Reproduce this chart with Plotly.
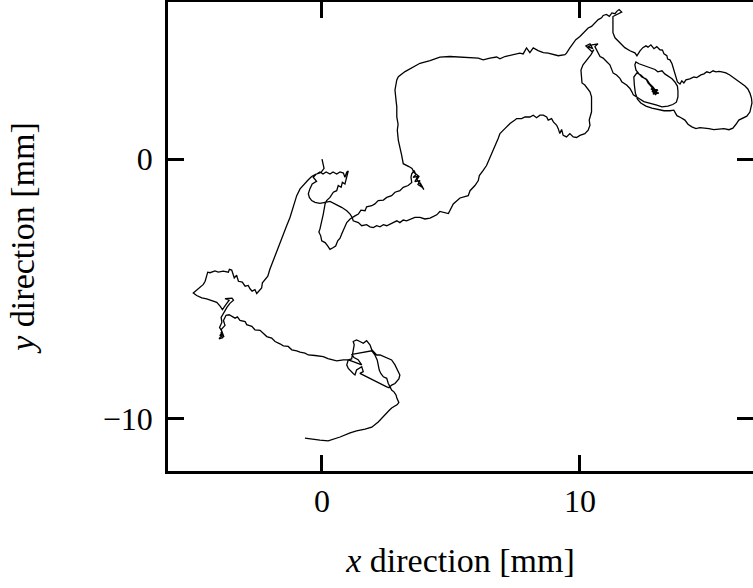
import plotly.graph_objects as go

# Trajectory of the tracked particle, in mm, split into consecutive stretches.
origin_loop = [
    (0, 0), (0.05, -0.17), (0.08, -0.36), (-0.04, -0.52), (-0.19, -0.57),
    (-0.08, -0.50), (0.04, -0.58), (0.16, -0.50), (0.31, -0.58), (0.43, -0.50),
    (0.57, -0.58), (0.70, -0.50), (0.83, -0.54), (0.89, -0.70), (0.96, -0.51),
    (1.02, -0.46), (0.96, -0.70), (0.89, -0.96), (0.79, -0.90), (0.74, -1.09),
    (0.63, -1.02), (0.57, -1.22), (0.44, -1.28), (0.31, -1.48), (0.18, -1.60),
    (0.12, -1.73), (0.05, -2.12), (-0.01, -2.45), (-0.08, -2.70), (-0.12, -2.81),
    (-0.05, -2.96), (-0.01, -3.15), (0.12, -3.22), (0.22, -3.35), (0.31, -3.48),
    (0.44, -3.41), (0.53, -3.35), (0.61, -3.15), (0.70, -3.05), (0.76, -2.90),
    (0.86, -2.64), (0.96, -2.45), (1.09, -2.31), (1.17, -2.25),
]

to_first_knot = [
    (1.28, -2.19), (1.41, -2.12), (1.51, -1.97), (1.67, -1.99), (1.73, -1.84),
    (1.93, -1.80), (2.05, -1.73), (2.18, -1.60), (2.38, -1.58), (2.51, -1.48),
    (2.70, -1.41), (2.83, -1.28), (3.02, -1.22), (3.15, -1.09), (3.34, -1.02),
    (3.48, -0.90), (3.45, -0.70), (3.48, -0.57),
    (3.57, -0.44), (3.64, -0.60), (3.53, -0.71), (3.72, -0.67), (3.60, -0.87),
    (3.80, -0.83), (3.72, -0.98), (3.91, -1.10), (3.80, -0.91), (3.95, -1.18),
    (3.84, -1.02), (3.68, -0.79), (3.76, -0.67), (3.57, -0.52), (3.49, -0.36),
    (3.37, -0.29), (3.28, -0.25), (3.15, -0.18),
]

upper_arc = [
    (3.09, 0.14), (3.02, 0.46), (2.96, 0.72), (2.92, 1.11), (2.95, 1.34),
    (2.90, 1.62), (2.90, 2.01), (2.87, 2.27), (2.83, 2.66), (2.90, 3.05),
    (2.96, 3.17), (3.22, 3.37), (3.54, 3.56), (3.80, 3.69), (4.19, 3.79),
    (4.57, 3.93), (4.96, 3.95), (5.35, 3.93), (5.74, 3.89), (6.06, 3.89),
    (6.25, 3.82), (6.51, 3.89), (6.77, 3.93), (6.90, 3.86), (7.09, 3.95),
    (7.29, 4.00), (7.48, 4.03), (7.67, 4.08), (7.80, 4.05), (7.93, 4.28),
    (8.06, 4.10), (8.19, 4.28), (8.38, 4.18), (8.58, 4.10), (8.77, 4.08),
    (8.97, 4.02), (9.16, 3.98), (9.42, 4.02), (9.48, 4.08), (9.61, 4.28),
    (9.74, 4.47), (9.84, 4.60), (10.00, 4.72), (10.19, 4.92), (10.32, 5.05),
    (10.45, 5.11), (10.58, 5.24), (10.71, 5.37), (10.84, 5.44), (10.90, 5.53),
    (11.03, 5.57), (11.14, 5.50), (11.24, 5.63), (11.36, 5.60), (11.43, 5.69),
    (11.52, 5.76), (11.62, 5.66),
]

egg_top = [
    (11.28, 5.49), (11.28, 5.18), (11.28, 4.87), (11.36, 4.67), (11.55, 4.48),
    (11.74, 4.29), (11.94, 4.17), (12.13, 4.09), (12.21, 3.98),
    (12.33, 4.17), (12.44, 4.29), (12.56, 4.36), (12.64, 4.31), (12.75, 4.40),
    (12.87, 4.25), (12.98, 4.33), (13.10, 4.21), (13.20, 4.20), (13.26, 4.05),
    (13.37, 3.98), (13.40, 3.85), (13.49, 3.82), (13.57, 3.67), (13.62, 3.51),
    (13.68, 3.32), (13.74, 3.16), (13.78, 2.97),
]

right_loop = [
    (13.88, 2.89), (13.95, 3.01), (14.03, 2.93), (14.11, 3.05), (14.26, 3.09),
    (14.42, 3.16), (14.53, 3.14), (14.69, 3.24), (14.81, 3.28), (14.92, 3.36),
    (15.04, 3.32), (15.16, 3.40), (15.27, 3.36), (15.39, 3.38), (15.50, 3.36),
    (15.66, 3.32), (15.81, 3.24), (15.93, 3.16), (16.09, 3.05), (16.24, 2.93),
    (16.40, 2.81), (16.51, 2.70), (16.59, 2.54), (16.65, 2.35), (16.67, 2.16),
    (16.63, 2.00), (16.59, 1.81), (16.47, 1.65), (16.32, 1.57), (16.16, 1.50),
    (16.05, 1.34), (15.93, 1.19), (15.78, 1.13), (15.58, 1.17), (15.39, 1.15),
    (15.19, 1.13), (15.00, 1.17), (14.81, 1.19), (14.65, 1.21), (14.50, 1.17),
    (14.34, 1.24), (14.19, 1.34), (14.07, 1.50), (13.92, 1.59), (13.76, 1.67),
]

egg_inner = [
    (13.64, 1.88), (13.49, 1.86), (13.26, 1.86), (13.02, 1.90), (12.79, 1.96),
    (12.56, 2.04), (12.36, 2.16), (12.23, 2.31),
    (12.15, 2.54), (12.11, 2.85), (12.09, 3.16),
    (12.21, 3.32), (12.36, 3.24), (12.48, 3.12), (12.60, 3.05), (12.71, 2.89),
    (12.83, 2.78),
    (12.98, 2.58), (12.75, 2.70), (13.02, 2.66), (12.83, 2.50), (13.06, 2.54),
    (12.79, 2.62), (12.95, 2.47),
    (12.87, 2.66), (12.75, 2.81), (12.64, 2.93), (12.56, 3.09), (12.40, 3.16),
    (12.29, 3.28), (12.17, 3.43), (12.13, 3.63), (12.17, 3.74),
    (12.29, 3.67), (12.44, 3.61), (12.60, 3.55), (12.75, 3.51), (12.91, 3.45),
    (13.02, 3.36), (13.18, 3.40), (13.29, 3.28), (13.41, 3.20), (13.57, 3.09),
    (13.68, 2.97), (13.78, 2.81),
    (13.80, 2.62), (13.80, 2.39), (13.74, 2.19), (13.60, 2.10),
    (13.41, 2.04), (13.18, 2.01), (12.98, 2.08), (12.71, 2.14), (12.48, 2.21),
    (12.29, 2.33),
    (12.20, 2.40), (12.07, 2.47), (12.02, 2.58), (11.94, 2.72), (11.81, 2.85),
    (11.62, 2.98), (11.55, 3.11), (11.42, 3.24), (11.29, 3.31), (11.23, 3.43),
    (11.16, 3.63), (11.03, 3.76), (10.90, 3.89), (10.78, 3.95), (10.66, 4.17),
    (10.58, 4.33), (10.70, 4.44), (10.47, 4.40), (10.31, 4.33), (10.50, 4.25),
    (10.39, 4.44), (10.23, 4.36), (10.47, 4.13), (10.54, 4.21), (10.43, 4.02),
    (10.27, 3.82), (10.12, 3.63), (10.04, 3.43), (10.06, 3.20), (10.08, 2.93),
]

lower_branch = [
    (10.19, 2.85), (10.27, 2.74), (10.39, 2.59), (10.45, 2.40), (10.45, 2.14),
    (10.45, 1.82), (10.36, 1.50), (10.39, 1.30), (10.32, 1.11), (10.19, 0.98),
    (10.00, 0.91), (9.87, 0.83), (9.74, 0.85), (9.61, 0.98), (9.48, 0.85),
    (9.35, 0.91), (9.29, 1.14), (9.22, 0.98), (9.16, 1.17), (9.10, 1.30),
    (8.97, 1.43), (8.90, 1.56), (8.77, 1.50), (8.71, 1.62), (8.58, 1.69),
    (8.45, 1.69), (8.32, 1.59), (8.19, 1.69), (8.06, 1.62), (7.87, 1.62),
    (7.74, 1.56), (7.55, 1.56), (7.48, 1.50), (7.29, 1.37), (7.09, 1.17),
    (6.90, 0.98), (6.83, 0.79), (6.74, 0.59), (6.64, 0.33), (6.51, 0.07),
    (6.38, -0.25), (6.25, -0.44), (6.10, -0.64), (6.06, -0.83), (5.93, -1.02),
    (5.74, -1.22), (5.67, -1.41), (5.35, -1.50), (5.09, -1.73), (4.90, -2.10),
    (4.57, -2.02), (4.45, -2.15),
    (4.30, -2.21), (4.19, -2.28), (3.99, -2.31), (3.80, -2.25), (3.60, -2.25),
    (3.41, -2.31), (3.28, -2.38), (3.15, -2.35), (3.02, -2.45), (2.90, -2.38),
    (2.76, -2.45), (2.64, -2.48), (2.51, -2.57), (2.38, -2.53), (2.25, -2.61),
    (2.12, -2.57), (1.99, -2.64), (1.86, -2.61), (1.73, -2.53), (1.54, -2.57),
    (1.41, -2.45), (1.21, -2.38), (1.17, -2.25),
]

westward = [
    (1.09, -2.12), (0.96, -1.99), (0.76, -1.86), (0.50, -1.71), (0.31, -1.63),
    (0.12, -1.67), (-0.08, -1.71), (-0.27, -1.67), (-0.40, -1.60), (-0.49, -1.48),
    (-0.53, -1.34), (-0.47, -1.15), (-0.38, -0.96), (-0.21, -0.86), (-0.34, -0.70),
    (-0.21, -0.57),
    (-0.40, -0.67), (-0.53, -0.80), (-0.66, -0.93), (-0.85, -1.15), (-0.98, -1.41),
    (-1.11, -1.86), (-1.24, -2.25), (-1.37, -2.57), (-1.50, -2.90), (-1.63, -3.22),
    (-1.76, -3.54), (-1.89, -3.86), (-1.93, -4.00), (-2.02, -4.25), (-2.10, -4.51),
    (-2.21, -4.64), (-2.31, -4.77), (-2.34, -4.97), (-2.44, -5.09), (-2.53, -5.18),
    (-2.60, -5.03), (-2.71, -5.09), (-2.79, -5.00), (-2.86, -4.87), (-2.98, -4.90),
    (-3.09, -4.74), (-3.24, -4.71), (-3.31, -4.48), (-3.40, -4.58), (-3.50, -4.28),
    (-3.59, -4.25), (-3.63, -4.36), (-3.83, -4.32), (-4.02, -4.36), (-4.15, -4.31),
    (-4.34, -4.38), (-4.43, -4.36), (-4.47, -4.51), (-4.53, -4.71), (-4.60, -4.83),
    (-4.73, -4.93), (-4.86, -5.03), (-4.99, -5.16),
    (-4.86, -5.26), (-4.66, -5.35), (-4.47, -5.39), (-4.28, -5.45), (-4.08, -5.52),
    (-3.95, -5.67), (-3.86, -5.80),
    (-3.72, -5.60), (-3.60, -5.44), (-3.76, -5.38), (-3.49, -5.36), (-3.43, -5.44),
    (-3.57, -5.56), (-3.68, -5.71), (-3.80, -5.91), (-3.91, -6.10), (-3.88, -6.29),
    (-3.97, -6.49), (-3.88, -6.64), (-3.95, -6.80), (-3.84, -6.88), (-3.99, -6.93),
    (-3.88, -6.76), (-3.93, -6.68), (-3.80, -6.86), (-3.91, -6.57), (-3.76, -6.41),
    (-3.82, -6.22), (-3.72, -6.02), (-3.60, -6.00), (-3.50, -6.06),
]

southeast = [
    (-3.37, -6.13), (-3.28, -6.08), (-3.18, -6.22), (-2.98, -6.26), (-2.92, -6.38),
    (-2.72, -6.45), (-2.60, -6.58), (-2.40, -6.60), (-2.28, -6.71), (-2.14, -6.84),
    (-1.95, -6.90), (-1.82, -7.03), (-1.63, -7.12), (-1.50, -7.20), (-1.31, -7.22),
    (-1.17, -7.35), (-0.98, -7.39), (-0.85, -7.44), (-0.66, -7.48), (-0.53, -7.55),
    (-0.27, -7.57), (-0.08, -7.59), (0.05, -7.61), (0.23, -7.69), (0.44, -7.74),
    (0.57, -7.78), (0.83, -7.74), (1.02, -7.74), (1.15, -7.70),
    (1.21, -7.42), (1.25, -7.16), (1.21, -7.03), (1.34, -6.97), (1.47, -7.03),
    (1.60, -7.10), (1.73, -7.00), (1.86, -7.16), (1.93, -7.35), (1.99, -7.42),
    (2.12, -7.55), (2.25, -7.55), (2.38, -7.61), (2.51, -7.68), (2.70, -7.74),
    (2.83, -7.93), (2.92, -8.13), (3.02, -8.32), (2.98, -8.47), (2.83, -8.65),
    (2.70, -8.71), (2.60, -8.81), (2.51, -8.78), (2.25, -8.65), (1.99, -8.52),
    (1.73, -8.39), (1.54, -8.32), (1.47, -8.26), (1.60, -8.19), (1.54, -8.00),
    (1.34, -8.13), (1.28, -8.32), (1.21, -8.26), (1.02, -8.07), (0.96, -7.93),
    (1.02, -7.74), (1.21, -7.81), (1.40, -7.88), (1.54, -7.93), (1.40, -7.73),
    (1.24, -7.65), (1.16, -7.53), (1.40, -7.48), (1.67, -7.45), (1.93, -7.39),
    (2.05, -7.55), (2.14, -7.74), (2.18, -7.93), (2.22, -8.13), (2.28, -8.26),
    (2.38, -8.39), (2.51, -8.45), (2.57, -8.65), (2.64, -8.78),
    (2.70, -8.90), (2.79, -8.97), (2.87, -9.09), (2.91, -9.23), (2.98, -9.38),
    (2.92, -9.46),
    (2.83, -9.51), (2.70, -9.59), (2.61, -9.68), (2.40, -9.90), (2.18, -10.13),
    (1.93, -10.33), (1.67, -10.41), (1.34, -10.47), (1.09, -10.55), (0.70, -10.71),
    (0.24, -10.86), (-0.08, -10.83), (-0.27, -10.80), (-0.66, -10.75),
]

x_ticks = [0, 10]
y_ticks = [-10, 0]

path = (origin_loop + to_first_knot + upper_arc + egg_top + right_loop
        + egg_inner + lower_branch + westward + southeast)
xs = [p[0] for p in path]
ys = [p[1] for p in path]

x_range = [-5.97, 16.71]
y_range = [-12.02, 6.05]

fig = go.Figure()
fig.add_trace(go.Scatter(
    x=xs, y=ys, mode="lines",
    line=dict(color="black", width=1.3),
    showlegend=False, hoverinfo="skip",
))
# empty trace so the right-hand tick marks are drawn by a second y axis
fig.add_trace(go.Scatter(x=[], y=[], yaxis="y2", showlegend=False, hoverinfo="skip"))

font_family = "Liberation Serif"
frame_w = 2.5
tick_font = dict(family=font_family, size=32, color="black")
title_font = dict(family=font_family, size=34, color="black")

fig.update_layout(
    width=753, height=588,
    margin=dict(l=168, r=0, t=2, b=117),
    paper_bgcolor="white", plot_bgcolor="white",
    font=dict(family=font_family, size=32, color="black"),
    xaxis=dict(
        range=x_range, tickvals=x_ticks, ticks="inside", ticklen=16,
        tickwidth=frame_w, tickcolor="black", showline=True, linewidth=frame_w,
        linecolor="black", mirror="ticks", showgrid=False, zeroline=False,
        automargin=False, ticklabelstandoff=0, tickfont=tick_font,
        title=dict(text="<i>x</i> direction [mm]", standoff=31, font=title_font),
    ),
    yaxis=dict(
        range=y_range, tickvals=y_ticks, ticks="inside", ticklen=16,
        tickwidth=frame_w, tickcolor="black", showline=True, linewidth=frame_w,
        linecolor="black", mirror=False, showgrid=False, zeroline=False,
        automargin=False, ticklabelstandoff=6, tickfont=tick_font,
        title=dict(text="<i>y</i> direction [mm]", standoff=58, font=title_font),
    ),
    yaxis2=dict(
        range=y_range, tickvals=y_ticks, overlaying="y", side="right", anchor="x",
        ticks="inside", ticklen=16, tickwidth=frame_w, tickcolor="black",
        showline=False, showticklabels=False, showgrid=False, zeroline=False,
    ),
)

fig.write_html("out.html")
